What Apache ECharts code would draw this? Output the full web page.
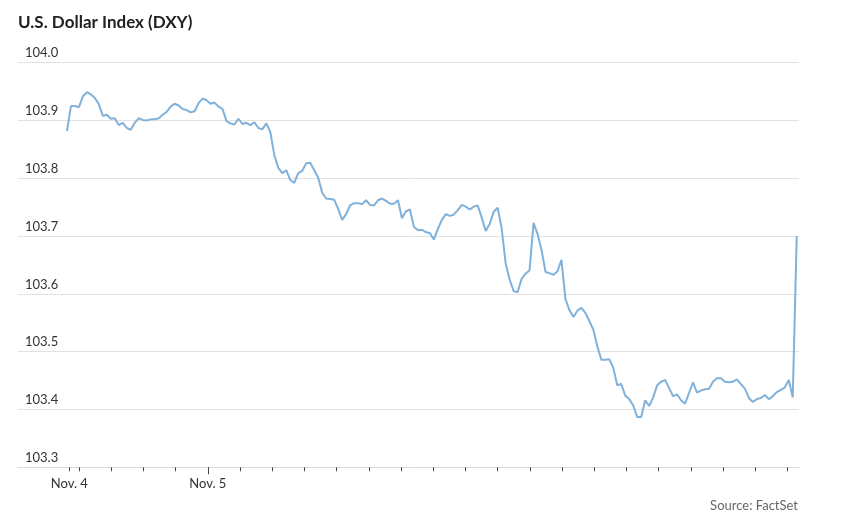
<!DOCTYPE html>
<html>
<head>
<meta charset="utf-8">
<script src="https://cdn.jsdelivr.net/npm/echarts@6/dist/echarts.min.js"></script>
<style>
html,body{margin:0;padding:0;background:#fff;}
#chart{width:842px;height:528px;}
</style>
</head>
<body>
<div id="chart"></div>
<script>
// ---- data ----
const titleText = 'U.S. Dollar Index (DXY)';
const sourceText = 'Source: FactSet';
// x positions in axis "tick" units (one tick = one interval on the time axis)
const seriesStart = -0.373;
const seriesStep = 0.12384;
const dxyValues = [
103.882,103.925,103.925,103.923,103.942,103.949,103.945,103.939,103.928,103.908,
103.910,103.903,103.904,103.892,103.896,103.887,103.884,103.896,103.904,103.901,
103.900,103.902,103.902,103.904,103.910,103.915,103.924,103.929,103.926,103.920,
103.918,103.914,103.916,103.930,103.938,103.935,103.929,103.931,103.924,103.920,
103.899,103.895,103.893,103.903,103.894,103.896,103.892,103.897,103.887,103.885,
103.895,103.880,103.840,103.818,103.809,103.814,103.797,103.792,103.809,103.813,
103.826,103.827,103.814,103.801,103.775,103.765,103.764,103.763,103.747,103.728,
103.738,103.753,103.757,103.757,103.755,103.762,103.754,103.753,103.762,103.765,
103.761,103.756,103.756,103.762,103.731,103.743,103.746,103.716,103.710,103.711,
103.707,103.705,103.694,103.712,103.728,103.738,103.735,103.737,103.745,103.754,
103.751,103.746,103.751,103.753,103.732,103.709,103.721,103.742,103.749,103.714,
103.653,103.625,103.605,103.603,103.626,103.635,103.641,103.723,103.704,103.676,
103.638,103.636,103.633,103.639,103.659,103.591,103.572,103.560,103.571,103.576,
103.567,103.553,103.538,103.509,103.486,103.486,103.487,103.472,103.442,103.444,
103.424,103.418,103.407,103.387,103.387,103.416,103.406,103.421,103.442,103.448,
103.451,103.437,103.423,103.426,103.416,103.410,103.429,103.447,103.429,103.433,
103.435,103.436,103.448,103.454,103.454,103.448,103.447,103.448,103.452,103.444,
103.436,103.420,103.413,103.418,103.420,103.425,103.418,103.423,103.430,103.434,
103.438,103.451,103.421,103.700
];
const tickPositions = [-0.3,0,1,2,3,4,5,6,7,8,9,10,11,12,13,14,15,16,17,18,19,20,21,22];
const majorTickPositions = [4];
const dateLabels = ['Nov. 4', 'Nov. 5'];
const dateLabelPositions = [-0.3, 4];
const yMin = 103.3, yMax = 104.0, yStep = 0.1;
const xMin = -1.894, xMax = 22.36;

// ---- chart ----
const seriesData = dxyValues.map((v, i) => [seriesStart + i * seriesStep, v]);
const FONT = 'Lato, "Noto Sans", sans-serif';
const chart = echarts.init(document.getElementById('chart'), null, {renderer: 'canvas'});
chart.setOption({
  animation: false,
  backgroundColor: '#ffffff',
  title: {
    text: titleText,
    left: 18, top: 14, padding: 0,
    textStyle: {fontFamily: FONT, fontSize: 17, fontWeight: 'bold', color: '#222'}
  },
  graphic: [{
    type: 'text', right: 44, top: 499,
    style: {text: sourceText, fontFamily: FONT, fontSize: 13, fill: '#666', textAlign: 'right'}
  }],
  grid: {left: 18, right: 43, top: 62.7, bottom: 60.7, containLabel: false},
  xAxis: [{
    type: 'value', min: xMin, max: xMax,
    axisLine: {show: true, lineStyle: {color: '#dcdcdc', width: 1}},
    axisTick: {show: true, customValues: tickPositions, length: 4, lineStyle: {color: '#444', width: 1}},
    axisLabel: {
      show: true, customValues: dateLabelPositions, margin: 10,
      fontFamily: FONT, fontSize: 13, color: '#333',
      formatter: v => {
        const k = dateLabelPositions.findIndex(p => Math.abs(p - v) < 1e-6);
        return k >= 0 ? dateLabels[k] : '';
      }
    },
    splitLine: {show: false}
  }, {
    type: 'value', min: xMin, max: xMax, position: 'bottom',
    axisLine: {show: false},
    axisTick: {show: true, customValues: majorTickPositions, length: 7, lineStyle: {color: '#444', width: 1}},
    axisLabel: {show: false},
    splitLine: {show: false}
  }],
  yAxis: {
    type: 'value', min: yMin, max: yMax, interval: yStep,
    axisLine: {show: false}, axisTick: {show: false},
    axisLabel: {
      inside: true, margin: 7, verticalAlign: 'bottom', padding: [0, 0, 3, 0],
      fontFamily: FONT, fontSize: 13, color: '#333',
      formatter: v => v.toFixed(1)
    },
    splitLine: {lineStyle: {color: '#e2e2e2', width: 1}}
  },
  series: [{
    type: 'line', xAxisIndex: 0, data: seriesData,
    showSymbol: false, symbol: 'none',
    lineStyle: {color: '#80b1da', width: 2},
    z: 5
  }]
});
</script>
</body>
</html>
